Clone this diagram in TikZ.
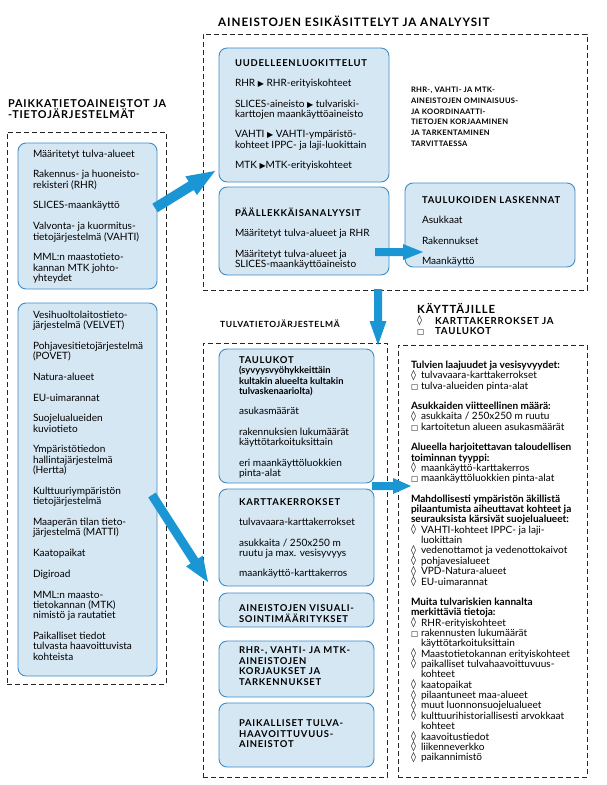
\documentclass[tikz,border=0pt]{standalone}
\usepackage{fontspec}
\setmainfont{Lato}
\newfontfamily\symf{DejaVu Sans}
\usetikzlibrary{calc}
\definecolor{arrowblue}{RGB}{27,150,212}
\definecolor{boxfill}{RGB}{214,231,244}
\definecolor{boxline}{RGB}{62,140,198}
\newcommand\bodyfont{\fontsize{10.1}{10.4}\selectfont}
\newcommand\hd{\bfseries\addfontfeature{LetterSpace=8}}
\newcommand\hdfont{\fontsize{9.5}{10.6}\selectfont\hd}
\newcommand\notefont{\fontsize{7.6}{10.8}\selectfont\bfseries\addfontfeature{LetterSpace=4}}
\newcommand\tstrut{\rule{0pt}{10bp}}
\newcommand\dia{\makebox[10bp][l]{\smash{\raisebox{0.6bp}{\symf\fontsize{10}{10}\selectfont ◊}}}}
\newcommand\sqr{\makebox[10bp][l]{\smash{\symf\fontsize{7.5}{10}\selectfont □}}}
\newcommand\ind{\hspace*{10bp}}
\newcommand\tri{{\symf\fontsize{8}{8}\selectfont ▶}}
\newcommand\blockarrow[5]{%
  \coordinate (ba-h) at ($(#2)!#5!(#1)$);
  \fill[arrowblue] ($(#1)!#3!90:(#2)$) -- ($(ba-h)!#3!90:(#2)$) -- ($(ba-h)!#4!90:(#2)$) -- (#2)
    -- ($(ba-h)!#4!-90:(#2)$) -- ($(ba-h)!#3!-90:(#2)$) -- ($(#1)!#3!-90:(#2)$) -- cycle;}
\begin{document}
\begin{tikzpicture}[x=1bp,y=-1bp,
  box/.style={draw=boxline, fill=boxfill, rounded corners=8bp, line width=0.9bp, inner sep=0pt, outer sep=0pt, anchor=north west},
  dbox/.style={draw=black!85, dash pattern=on 5bp off 3bp, line width=0.7bp, inner sep=0pt, outer sep=0pt, anchor=north west},
  txt/.style={anchor=north west, inner sep=0pt, outer sep=0pt, align=left, font=\bodyfont},
  ttl/.style={anchor=north west, inner sep=0pt, outer sep=0pt, align=left}]
\useasboundingbox (0,0) rectangle (607,785);
% group frames
\node[dbox, minimum width=159bp, minimum height=552bp] (gL) at (7,132) {};
\node[dbox, minimum width=384bp, minimum height=256bp] (gT) at (203,34) {};
\node[dbox, minimum width=184bp, minimum height=434bp] (gM) at (203,343) {};
\node[dbox, minimum width=189bp, minimum height=432bp] (gR) at (398,345) {};
% titles
\node[ttl, font=\fontsize{10.9}{11.5}\selectfont\hd] (tL) at (8,96) {\rule{0pt}{11bp}PAIKKATIETOAINEISTOT JA\\-TIETOJÄRJESTELMÄT};
\node[anchor=base west, inner sep=0pt, font=\fontsize{11.7}{12}\selectfont\hd] (tT) at (218,27) {AINEISTOJEN ESIKÄSITTELYT JA ANALYYSIT};
\node[anchor=base west, inner sep=0pt, font=\fontsize{8.5}{12}\selectfont\hd] (tM) at (220,327.5) {TULVATIETOJÄRJESTELMÄ};
\node[anchor=base west, inner sep=0pt, font=\fontsize{11.3}{12}\selectfont\hd] (tR) at (417,313) {KÄYTTÄJILLE};
\node[ttl, font=\fontsize{9.75}{11}\selectfont\hd] (tR2) at (417,315) {\rule{0pt}{9bp}\makebox[18bp][l]{\smash{\raisebox{0.6bp}{\symf\fontsize{10}{10}\selectfont ◊}}}KARTTAKERROKSET JA\\\makebox[18bp][l]{\smash{\symf\fontsize{7.5}{10}\selectfont □}}TAULUKOT};
% rounded boxes
\node[box, minimum width=139bp, minimum height=146bp] (l1) at (18,143) {};
\node[box, minimum width=139bp, minimum height=373bp] (l2) at (18,303) {};
\node[box, minimum width=170bp, minimum height=134bp] (u) at (219,48) {};
\node[box, minimum width=170bp, minimum height=88bp] (p) at (219,187) {};
\node[box, minimum width=170bp, minimum height=84bp] (t) at (405,183) {};
\node[box, minimum width=155bp, minimum height=134bp] (tb) at (219,349) {};
\node[box, minimum width=155bp, minimum height=97bp] (k) at (219,489) {};
\node[box, minimum width=155bp, minimum height=34bp] (v) at (219,593) {};
\node[box, minimum width=155bp, minimum height=56bp] (r) at (219,641) {};
\node[box, minimum width=155bp, minimum height=64bp] (pa) at (219,703) {};
% texts
\node[txt] (l1t) at (33,147) {\tstrut Määritetyt tulva-alueet\\[10.4bp]
Rakennus- ja huoneisto-\\rekisteri (RHR)\\[10.4bp]
SLICES-maankäyttö\\[10.4bp]
Valvonta- ja kuormitus-\\tietojärjestelmä (VAHTI)\\[10.4bp]
MML:n maastotieto-\\kannan MTK johto-\\yhteydet};
\node[txt] (l2t) at (33,308) {\tstrut Vesihuoltolaitostieto-\\järjestelmä (VELVET)\\[10.4bp]
Pohjavesitietojärjestelmä\\(POVET)\\[10.4bp]
Natura-alueet\\[10.4bp]
EU-uimarannat\\[10.4bp]
Suojelualueiden\\kuviotieto\\[10.4bp]
Ympäristötiedon\\hallintajärjestelmä\\(Hertta)\\[10.4bp]
Kulttuuriympäristön\\tietojärjestelmä\\[10.4bp]
Maaperän tilan tieto-\\järjestelmä (MATTI)\\[10.4bp]
Kaatopaikat\\[10.4bp]
Digiroad\\[10.4bp]
MML:n maasto-\\tietokannan (MTK)\\nimistö ja rautatiet\\[10.4bp]
Paikalliset tiedot\\tulvasta haavoittuvista\\kohteista};
\node[txt] (ut) at (235,56.5) {\tstrut{\hdfont UUDELLEENLUOKITTELUT}\\[10bp]
RHR \tri\ RHR-erityiskohteet\\[10bp]
SLICES-aineisto \tri\ tulvariski-\\karttojen maankäyttöaineisto\\[10bp]
VAHTI \tri\ VAHTI-ympäristö-\\kohteet IPPC- ja laji-luokittain\\[10bp]
MTK \tri MTK-erityiskohteet};
\node[txt] (pt) at (235,206.5) {\tstrut{\hdfont PÄÄLLEKKÄISANALYYSIT}\\[10bp]
Määritetyt tulva-alueet ja RHR\\[10bp]
Määritetyt tulva-alueet ja\\SLICES-maankäyttöaineisto};
\node[txt] (tt) at (422,193.5) {\tstrut{\hdfont TAULUKOIDEN LASKENNAT}\\[10bp]
Asukkaat\\[10bp]Rakennukset\\[10bp]Maankäyttö};
\node[txt, font=\notefont] (note) at (411,82.5) {\tstrut RHR-, VAHTI- JA MTK-\\AINEISTOJEN OMINAISUUS-\\JA KOORDINAATTI-\\TIETOJEN KORJAAMINEN\\JA TARKENTAMINEN\\TARVITTAESSA};
\node[txt] (tbt) at (239,353.5) {\tstrut{\hdfont TAULUKOT}\\
{\fontsize{9.4}{11}\selectfont\bfseries (syvyysvyöhykkeittäin}\\{\fontsize{9.4}{11}\selectfont\bfseries kultakin alueelta kultakin}\\{\fontsize{9.4}{11}\selectfont\bfseries tulvaskenaariolta)}\\[10bp]
asukasmäärät\\[10bp]
rakennuksien lukumäärät\\käyttötarkoituksittain\\[10bp]
eri maankäyttöluokkien\\pinta-alat};
\node[txt] (kt) at (239,495.5) {\tstrut{\hdfont KARTTAKERROKSET}\\[10bp]
tulvavaara-karttakerrokset\\[10bp]
asukkaita / 250x250 m\\ruutu ja max. vesisyvyys\\[10bp]
maankäyttö-karttakerros};
\node[txt, font=\hdfont] (vt) at (239,601.5) {\tstrut AINEISTOJEN VISUALI-\\SOINTIMÄÄRITYKSET};
\node[txt, font=\hdfont] (rt) at (239,643.5) {\tstrut RHR-, VAHTI- JA MTK-\\AINEISTOJEN\\KORJAUKSET JA\\TARKENNUKSET};
\node[txt, font=\hdfont] (pat) at (239,716.5) {\tstrut PAIKALLISET TULVA-\\HAAVOITTUVUUS-\\AINEISTOT};
\node[txt] (rbt) at (411,358.5) {\tstrut\textbf{Tulvien laajuudet ja vesisyvyydet:}\\
\dia tulvavaara-karttakerrokset\\
\sqr tulva-alueiden pinta-alat\\[10bp]
\textbf{Asukkaiden viitteellinen määrä:}\\
\dia asukkaita / 250x250 m ruutu\\
\sqr kartoitetun alueen asukasmäärät\\[10bp]
\textbf{Alueella harjoitettavan taloudellisen}\\
\textbf{toiminnan tyyppi:}\\
\dia maankäyttö-karttakerros\\
\sqr maankäyttöluokkien pinta-alat\\[10bp]
\textbf{Mahdollisesti ympäristön äkillistä}\\
\textbf{pilaantumista aiheuttavat kohteet ja}\\
\textbf{seurauksista kärsivät suojelualueet:}\\
\dia VAHTI-kohteet IPPC- ja laji-\\
\ind luokittain\\
\dia vedenottamot ja vedenottokaivot\\
\dia pohjavesialueet\\
\dia VPD-Natura-alueet\\
\dia EU-uimarannat\\[10bp]
\textbf{Muita tulvariskien kannalta}\\
\textbf{merkittäviä tietoja:}\\
\dia RHR-erityiskohteet\\
\sqr rakennusten lukumäärät\\
\ind käyttötarkoituksittain\\
\dia Maastotietokannan erityiskohteet\\
\dia paikalliset tulvahaavoittuvuus-\\
\ind kohteet\\
\dia kaatopaikat\\
\dia pilaantuneet maa-alueet\\
\dia muut luonnonsuojelualueet\\
\dia kulttuurihistoriallisesti arvokkaat\\
\ind kohteet\\
\dia kaavoitustiedot\\
\dia liikenneverkko\\
\dia paikannimistö};
% arrows
\coordinate (a1s) at (155,208); \coordinate (a1e) at (215,171);
\coordinate (a2s) at (375,252); \coordinate (a2e) at (423,252);
\coordinate (a3s) at (378,289); \coordinate (a3e) at (378,345);
\coordinate (a4s) at (372,486); \coordinate (a4e) at (411,486);
\coordinate (a5s) at (152,495); \coordinate (a5e) at (208,582);
\blockarrow{a1s}{a1e}{5bp}{11bp}{28bp}
\blockarrow{a2s}{a2e}{4bp}{8bp}{20bp}
\blockarrow{a3s}{a3e}{4bp}{8.5bp}{24bp}
\blockarrow{a4s}{a4e}{4bp}{8bp}{18bp}
\blockarrow{a5s}{a5e}{4.5bp}{10bp}{25bp}
\end{tikzpicture}
\end{document}
